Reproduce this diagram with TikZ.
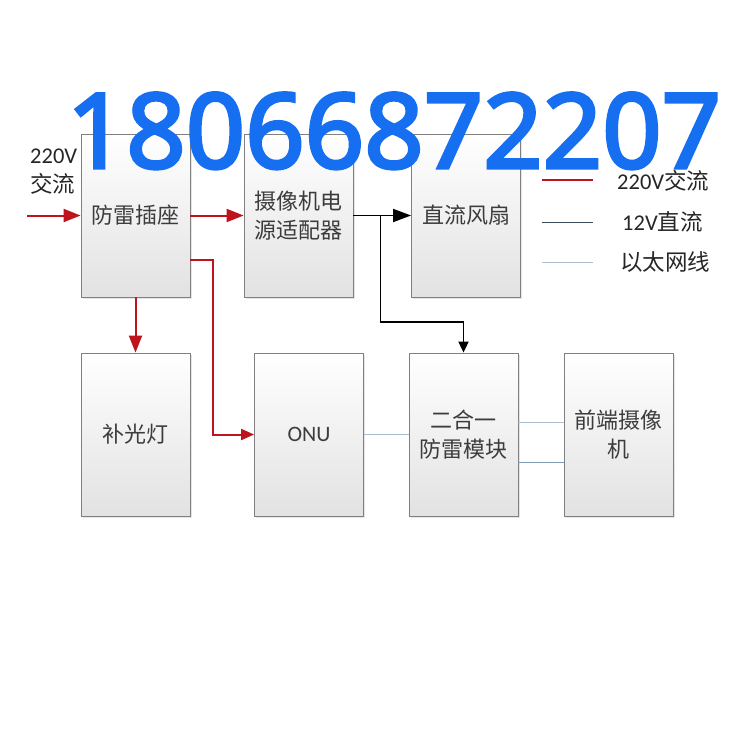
\documentclass[tikz,border=0pt]{standalone}
\usepackage{fontspec}
\setmainfont{Carlito}
\newfontfamily\cjk{Noto Sans CJK SC}
\newfontfamily\bignum[FakeBold=3]{Noto Sans}
\usetikzlibrary{arrows.meta,shadows}
\definecolor{boxborder}{RGB}{128,128,128}
\definecolor{boxbot}{RGB}{226,226,226}
\definecolor{txt}{RGB}{60,60,60}
\definecolor{redc}{RGB}{190,20,30}
\definecolor{ethc}{RGB}{170,190,210}
\definecolor{ethd}{RGB}{130,155,180}
\definecolor{dcc}{RGB}{60,75,90}
\definecolor{numblue}{RGB}{22,110,240}
\begin{document}
\begin{tikzpicture}[x=1pt,y=-1pt,
  box/.style={draw=boxborder, line width=0.8pt, top color=white, bottom color=boxbot,
    minimum width=109pt, minimum height=163pt, inner sep=0pt, text=txt,
    font=\fontsize{22}{29}\selectfont\cjk, align=center,
    drop shadow={shadow xshift=1.5pt, shadow yshift=-1.5pt, opacity=0.2}},
  redarrow/.style={draw=redc, line width=2pt, -{Triangle[length=17pt,width=13pt]}},
  redarrowsmall/.style={draw=redc, line width=2pt, -{Triangle[length=13pt,width=11pt]}},
  blkarrow/.style={draw=black, line width=1.8pt, -{Triangle[length=18pt,width=13pt]}},
  blkarrowsmall/.style={draw=black, line width=1.8pt, -{Triangle[length=11pt,width=10pt]}},
  ethline/.style={draw=ethc, line width=0.9pt},
  ethline2/.style={draw=ethd, line width=0.9pt},
  legtxt/.style={font=\fontsize{22.5}{26}\selectfont, text=black!85, inner sep=0pt},
  lbltxt/.style={font=\fontsize{22.5}{26}\selectfont, text=black!85, inner sep=0pt}
]
\useasboundingbox (0,0) rectangle (750,750);
\fill[white] (0,0) rectangle (750,750);

% boxes
\node[box] (fl) at (135.5,215.5) {防雷插座};
\node[box] (ps) at (298.5,215.5) {摄像机电\\源适配器};
\node[box] (fan) at (466,215.5) {直流风扇};
\node[box] (bg) at (135.5,434.5) {补光灯};
\node[box] (onu) at (309,434.5) {\normalfont ONU};
\node[box] (mod) at (463.5,434.5) {二合一\\防雷模块};
\node[box] (cam) at (618.5,434.5) {前端摄像\\机};

% input label
\node[lbltxt, anchor=base west] (lab1) at (30,163) {220V};
\node[lbltxt, anchor=base west] (lab2) at (30,192) {\cjk 交流};
\coordinate (in) at (27,215.5);

% red connectors
\draw[redarrow] (in) -- (fl.west);
\draw[redarrow] (fl.east) -- (ps.west);
\draw[redarrow] (fl.south) -- (bg.north);
\draw[redarrowsmall] ([yshift=-44.5pt]fl.east) -| ([xshift=-41pt]onu.west) -- (onu.west);

% black connectors
\draw[blkarrow] (ps.east) -- (fan.west);
\draw[blkarrowsmall] ([xshift=27pt]ps.east) |- ([yshift=31pt]mod.north) -- (mod.north);

% ethernet
\draw[ethline] (onu.east) -- (mod.west);
\draw[ethline] ([yshift=12.5pt]mod.east) -- ([yshift=12.5pt]cam.west);
\draw[ethline2] ([yshift=-27.5pt]mod.east) -- ([yshift=-27.5pt]cam.west);

% legend
\coordinate (l1a) at (542,180); \coordinate (l1b) at (593,180);
\coordinate (l2a) at (542,222); \coordinate (l2b) at (593,222);
\coordinate (l3a) at (542,262); \coordinate (l3b) at (593,262);
\draw[draw=redc, line width=1.4pt] (l1a) -- (l1b);
\draw[draw=dcc, line width=0.9pt] (l2a) -- (l2b);
\draw[draw=ethc, line width=0.9pt] (l3a) -- (l3b);
\node[legtxt, anchor=west] (t1) at (617,181) {220V{\cjk 交流}};
\node[legtxt, anchor=west] (t2) at (622,222) {12V{\cjk 直流}};
\node[legtxt, anchor=west] (t3) at (620,262) {\cjk 以太网线};

% overlay number
\node[anchor=base, inner sep=0pt, text=numblue, font=\fontsize{104}{110}\selectfont\bignum] (num) at (394,168) {18066872207};
\end{tikzpicture}
\end{document}
